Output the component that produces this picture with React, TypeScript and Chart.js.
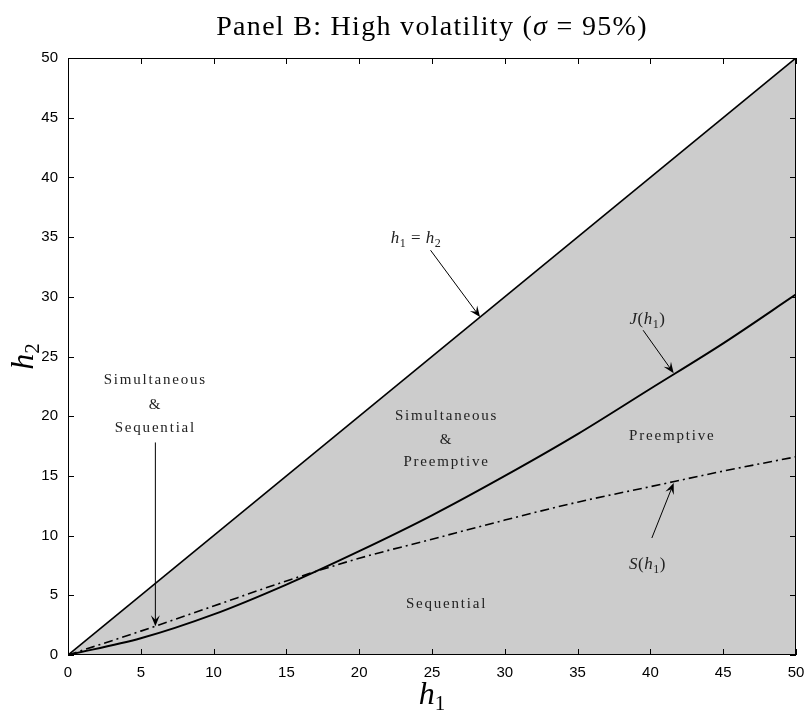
import React, { useEffect, useRef } from "react";
import { Chart, registerables } from "chart.js";
Chart.register(...registerables);

// ---- data ----
const H1_VALUES = [0, 5, 10, 15, 20, 25, 30, 35, 40, 45, 50];
const J_VALUES = [0, 1.4, 3.4, 5.9, 8.7, 11.7, 15.0, 18.5, 22.3, 26.1, 30.2];
const S_VALUES = [0, 2.0, 4.1, 6.2, 8.1, 9.7, 11.3, 12.8, 14.1, 15.4, 16.6];
const DIAG_H1 = [0, 50];
const DIAG_H2 = [0, 50];
const TICK_VALUES = [0, 5, 10, 15, 20, 25, 30, 35, 40, 45, 50];

const TITLE = "Panel B: High volatility (";
const TITLE_SYM = "σ";
const TITLE_END = " = 95%)";

type Seg = { t: string; i?: boolean; sub?: boolean };

const REGION_LABELS: { lines: string[]; x: number; y: number[] }[] = [
  { lines: ["Simultaneous", "&", "Sequential"], x: 6.0, y: [23.0, 20.9, 19.0] },
  { lines: ["Simultaneous", "&", "Preemptive"], x: 26.0, y: [20.0, 18.0, 16.2] },
  { lines: ["Preemptive"], x: 41.5, y: [18.3] },
  { lines: ["Sequential"], x: 26.0, y: [4.3] },
];

const MATH_LABELS: { segs: Seg[]; x: number; y: number }[] = [
  { segs: [{ t: "h", i: true }, { t: "1", sub: true }, { t: " = " }, { t: "h", i: true }, { t: "2", sub: true }], x: 23.9, y: 34.9 },
  { segs: [{ t: "J", i: true }, { t: "(" }, { t: "h", i: true }, { t: "1", sub: true }, { t: ")" }], x: 39.8, y: 28.1 },
  { segs: [{ t: "S", i: true }, { t: "(" }, { t: "h", i: true }, { t: "1", sub: true }, { t: ")" }], x: 39.8, y: 7.6 },
];

const ARROWS: { from: [number, number]; to: [number, number] }[] = [
  { from: [24.9, 33.9], to: [28.3, 28.3] },
  { from: [39.5, 27.2], to: [41.6, 23.6] },
  { from: [40.1, 9.8], to: [41.6, 14.4] },
  { from: [6.0, 17.8], to: [6.0, 2.4] },
];

const SERIF = '"Liberation Serif", "DejaVu Serif", serif';
const SANS = '"Liberation Sans", Arial, sans-serif';

function drawSegs(ctx: CanvasRenderingContext2D, segs: Seg[], cx: number, cy: number, size: number, spacing = 0) {
  const font = (s: Seg) => `${s.i ? "italic " : ""}${s.sub ? Math.round(size * 0.7) : size}px ${SERIF}`;
  (ctx as any).letterSpacing = `${spacing}px`;
  let w = 0;
  for (const s of segs) {
    ctx.font = font(s);
    w += ctx.measureText(s.t).width;
  }
  let x = cx - w / 2;
  ctx.textAlign = "left";
  ctx.textBaseline = "middle";
  for (const s of segs) {
    ctx.font = font(s);
    ctx.fillText(s.t, x, s.sub ? cy + size * 0.3 : cy);
    x += ctx.measureText(s.t).width;
  }
  (ctx as any).letterSpacing = "0px";
}

function drawArrow(ctx: CanvasRenderingContext2D, x1: number, y1: number, x2: number, y2: number) {
  const ang = Math.atan2(y2 - y1, x2 - x1);
  const L = 11;
  const W = 4.5;
  ctx.strokeStyle = "#000";
  ctx.lineWidth = 1;
  ctx.beginPath();
  ctx.moveTo(x1, y1);
  ctx.lineTo(x2 - Math.cos(ang) * 5, y2 - Math.sin(ang) * 5);
  ctx.stroke();
  ctx.save();
  ctx.translate(x2, y2);
  ctx.rotate(ang);
  ctx.fillStyle = "#000";
  ctx.beginPath();
  ctx.moveTo(0, 0);
  ctx.lineTo(-L, -W);
  ctx.lineTo(-L * 0.6, 0);
  ctx.lineTo(-L, W);
  ctx.closePath();
  ctx.fill();
  ctx.restore();
}

const decorPlugin = {
  id: "decor",
  afterDatasetsDraw(chart: any) {
    const ctx: CanvasRenderingContext2D = chart.ctx;
    const xs = chart.scales.x;
    const ys = chart.scales.y;
    const { left, right, top, bottom } = chart.chartArea;
    ctx.save();
    // box
    ctx.strokeStyle = "#000";
    ctx.lineWidth = 1;
    ctx.strokeRect(left + 0.5, top + 0.5, right - left - 1, bottom - top - 1);
    // inward ticks
    ctx.beginPath();
    for (const v of TICK_VALUES) {
      const px = Math.round(xs.getPixelForValue(v)) + 0.5;
      ctx.moveTo(px, bottom);
      ctx.lineTo(px, bottom - 6);
      ctx.moveTo(px, top);
      ctx.lineTo(px, top + 6);
      const py = Math.round(ys.getPixelForValue(v)) + 0.5;
      ctx.moveTo(left, py);
      ctx.lineTo(left + 6, py);
      ctx.moveTo(right, py);
      ctx.lineTo(right - 6, py);
    }
    ctx.stroke();

    // region labels
    ctx.fillStyle = "#222";
    ctx.font = `15px ${SERIF}`;
    (ctx as any).letterSpacing = "1.8px";
    ctx.textAlign = "center";
    ctx.textBaseline = "middle";
    for (const r of REGION_LABELS) {
      r.lines.forEach((ln, k) => {
        ctx.fillText(ln, xs.getPixelForValue(r.x), ys.getPixelForValue(r.y[k]));
      });
    }
    (ctx as any).letterSpacing = "0px";
    for (const m of MATH_LABELS) {
      drawSegs(ctx, m.segs, xs.getPixelForValue(m.x), ys.getPixelForValue(m.y), 17, 0.5);
    }
    for (const a of ARROWS) {
      drawArrow(
        ctx,
        xs.getPixelForValue(a.from[0]),
        ys.getPixelForValue(a.from[1]),
        xs.getPixelForValue(a.to[0]),
        ys.getPixelForValue(a.to[1])
      );
    }

    // title
    ctx.fillStyle = "#000";
    drawSegs(ctx, [{ t: TITLE }, { t: TITLE_SYM, i: true }, { t: TITLE_END }], (left + right) / 2, 28, 28, 1.3);

    // axis labels
    const cx = (left + right) / 2;
    ctx.fillStyle = "#000";
    ctx.font = `italic 32px ${SERIF}`;
    ctx.textAlign = "left";
    ctx.textBaseline = "alphabetic";
    const hw = ctx.measureText("h").width;
    ctx.font = `21px ${SERIF}`;
    const sw = ctx.measureText("1").width;
    let x0 = cx - (hw + sw) / 2;
    ctx.font = `italic 32px ${SERIF}`;
    ctx.fillText("h", x0, 704);
    ctx.font = `21px ${SERIF}`;
    ctx.fillText("1", x0 + hw, 710);

    ctx.save();
    ctx.translate(33, (top + bottom) / 2);
    ctx.rotate(-Math.PI / 2);
    x0 = -(hw + sw) / 2;
    ctx.font = `italic 32px ${SERIF}`;
    ctx.fillText("h", x0, 0);
    ctx.font = `21px ${SERIF}`;
    ctx.fillText("2", x0 + hw, 6);
    ctx.restore();

    ctx.restore();
  },
};

export default function App() {
  const ref = useRef<HTMLCanvasElement | null>(null);
  useEffect(() => {
    document.body.style.margin = "0";
    const canvas = ref.current!;
    const toPts = (xs: number[], ys: number[]) => xs.map((x, i) => ({ x, y: ys[i] }));
    const chart = new Chart(canvas, {
      type: "line",
      data: {
        datasets: [
          {
            label: "h1 = h2",
            data: toPts(DIAG_H1, DIAG_H2),
            borderColor: "#000",
            borderWidth: 1.7,
            backgroundColor: "#cccccc",
            fill: "origin",
            pointRadius: 0,
            order: 3,
          },
          {
            label: "J(h1)",
            data: toPts(H1_VALUES, J_VALUES),
            borderColor: "#000",
            borderWidth: 1.9,
            fill: false,
            pointRadius: 0,
            cubicInterpolationMode: "monotone",
            order: 2,
          },
          {
            label: "S(h1)",
            data: toPts(H1_VALUES, S_VALUES),
            borderColor: "#000",
            borderWidth: 1.6,
            borderDash: [9, 4, 2, 4],
            fill: false,
            pointRadius: 0,
            cubicInterpolationMode: "monotone",
            order: 1,
          },
        ],
      },
      options: {
        responsive: false,
        animation: false,
        parsing: false as any,
        layout: { padding: { left: 8, right: 14, top: 58, bottom: 22 } },
        plugins: {
          legend: { display: false },
          tooltip: { enabled: false },
          title: { display: false },
          filler: { drawTime: "beforeDatasetsDraw" },
        },
        scales: {
          x: {
            type: "linear",
            min: 0,
            max: 50,
            grid: { display: false, drawTicks: false },
            border: { display: false },
            afterFit: (s: any) => {
              s.height = 40;
              s.paddingLeft = 0;
              s.paddingRight = 0;
            },
            ticks: {
              stepSize: 5,
              padding: 9,
              color: "#000",
              font: { family: SANS, size: 15 },
            },
          },
          y: {
            type: "linear",
            min: 0,
            max: 50,
            grid: { display: false, drawTicks: false },
            border: { display: false },
            afterFit: (s: any) => {
              s.width = 60;
              s.paddingTop = 0;
              s.paddingBottom = 0;
            },
            ticks: {
              stepSize: 5,
              padding: 10,
              color: "#000",
              font: { family: SANS, size: 15 },
            },
          },
        },
      },
      plugins: [decorPlugin],
    });
    return () => chart.destroy();
  }, []);
  return <canvas ref={ref} width={810} height={717} style={{ display: "block" }} />;
}
